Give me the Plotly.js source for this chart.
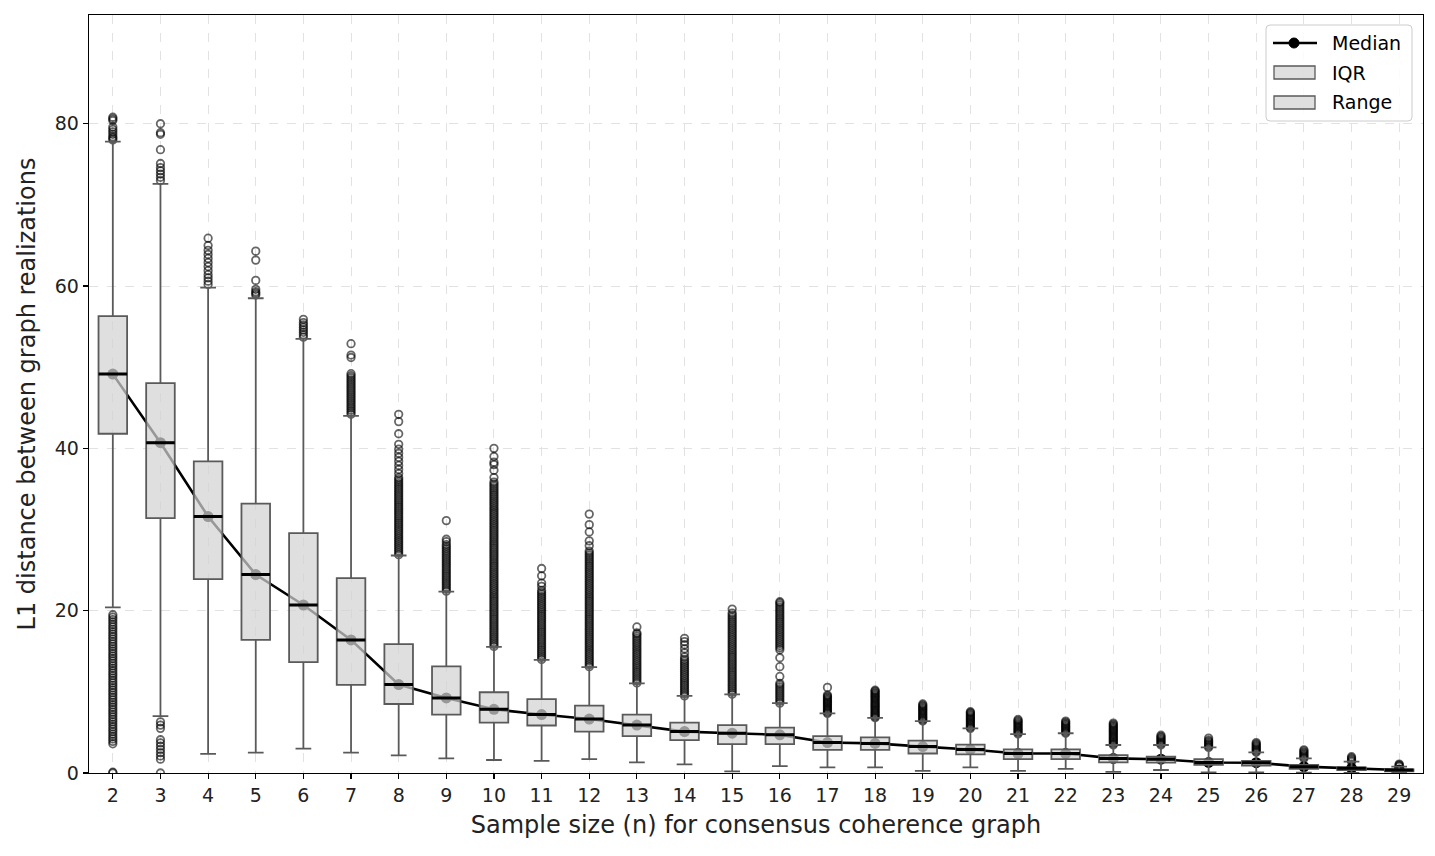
<!DOCTYPE html>
<html>
<head>
<meta charset="utf-8">
<script src="https://cdn.plot.ly/plotly-3.0.1.min.js"></script>
<style>html,body{margin:0;padding:0;background:#fff;}#chart{width:1435px;height:856px;}</style>
</head>
<body>
<div id="chart"></div>
<script>
// ---- data ----
const sampleSizes = [2,3,4,5,6,7,8,9,10,11,12,13,14,15,16,17,18,19,20,21,22,23,24,25,26,27,28,29];
const q1Values     = [41.8,31.4,23.9,16.4,13.65,10.85,8.5,7.2,6.2,5.85,5.1,4.55,4.05,3.55,3.55,2.85,2.85,2.4,2.3,1.7,1.7,1.3,1.27,1.0,0.9,0.5,0.37,0.2];
const medianValues = [49.15,40.7,31.6,24.45,20.7,16.4,10.9,9.25,7.85,7.2,6.65,5.9,5.1,4.9,4.7,3.75,3.65,3.25,2.9,2.4,2.4,1.8,1.7,1.3,1.27,0.78,0.57,0.37];
const q3Values     = [56.3,48.05,38.4,33.2,29.55,24.0,15.87,13.15,9.95,9.1,8.3,7.2,6.2,5.9,5.6,4.55,4.4,4.0,3.5,2.9,2.9,2.2,2.0,1.7,1.5,1.0,0.7,0.45];
const lowerWhisker = [20.4,7.0,2.35,2.5,3.0,2.5,2.17,1.8,1.6,1.5,1.7,1.3,1.07,0.2,0.85,0.7,0.7,0.25,0.7,0.25,0.5,0.15,0.37,0.08,0.08,0.05,0.0,0.0];
const upperWhisker = [77.8,72.6,59.8,58.5,53.5,44.0,26.8,22.35,15.55,13.95,13.05,11.05,9.5,9.7,8.6,7.35,6.8,6.4,5.5,4.8,4.9,3.45,3.45,3.15,2.55,1.8,1.4,0.78];
const outlierValues = [
  [80.8,80.6,80.4,79.6,79.3,79.0,78.7,78.4,78.2,78.0,
   19.5,19.2,18.9,18.6,18.3,18.0,17.7,17.4,17.1,16.8,16.5,16.2,15.9,15.6,15.3,15.0,14.7,14.4,14.1,13.8,13.5,13.2,12.9,12.6,12.3,12.0,11.7,11.4,11.1,10.8,10.5,10.2,9.9,9.6,9.3,9.0,8.7,8.4,8.1,7.8,7.5,7.2,6.9,6.6,6.3,6.0,5.7,5.4,5.1,4.8,4.5,4.2,3.9,3.6,0.1,0.0],
  [80.0,78.9,78.7,76.8,75.1,74.6,74.2,73.8,73.4,73.0,6.3,5.9,5.5,4.1,3.7,3.3,2.9,2.5,2.1,1.7,0.0],
  [65.9,65.0,64.4,63.9,63.4,62.9,62.4,61.9,61.4,61.0,60.6,60.2],
  [64.3,63.2,60.7,59.6,59.3,59.1,58.9],
  [55.9,55.5,55.2,54.9,54.6,54.3,54.0,53.7],
  [44.2,44.45,44.7,44.95,45.2,45.45,45.7,45.95,46.2,46.45,46.7,46.95,47.2,47.45,47.7,47.95,48.2,48.45,48.7,48.95,49.2,51.2,51.5,52.9],
  [26.9,27.15,27.4,27.65,27.9,28.15,28.4,28.65,28.9,29.15,29.4,29.65,29.9,30.15,30.4,30.65,30.9,31.15,31.4,31.65,31.9,32.15,32.4,32.65,32.9,33.15,33.4,33.65,33.9,34.15,34.4,34.65,34.9,35.15,35.4,35.65,35.9,36.15,36.4,
   36.9,37.4,37.9,38.4,38.9,39.4,39.9,40.5,41.8,43.3,44.2],
  [22.4,22.65,22.9,23.15,23.4,23.65,23.9,24.15,24.4,24.65,24.9,25.15,25.4,25.65,25.9,26.15,26.4,26.65,26.9,27.15,27.4,27.65,27.9,28.15,28.5,28.8,31.1],
  [15.6,15.85,16.1,16.35,16.6,16.85,17.1,17.35,17.6,17.85,18.1,18.35,18.6,18.85,19.1,19.35,19.6,19.85,20.1,20.35,20.6,20.85,21.1,21.35,21.6,21.85,22.1,22.35,22.6,22.85,
   23.1,23.35,23.6,23.85,24.1,24.35,24.6,24.85,25.1,25.35,25.6,25.85,26.1,26.35,26.6,26.85,27.1,27.35,27.6,27.85,28.1,28.35,28.6,28.85,29.1,29.35,29.6,29.85,
   30.1,30.35,30.6,30.85,31.1,31.35,31.6,31.85,32.1,32.35,32.6,32.85,33.1,33.35,33.6,33.85,34.1,34.35,34.6,34.85,35.1,35.35,35.6,35.85,36.4,37.3,38.0,38.3,39.0,40.0],
  [14.0,14.25,14.5,14.75,15.0,15.25,15.5,15.75,16.0,16.25,16.5,16.75,17.0,17.25,17.5,17.75,18.0,18.25,18.5,18.75,19.0,19.25,19.5,19.75,20.0,20.25,20.5,20.75,21.0,21.25,21.5,21.75,22.0,22.25,22.5,23.0,23.4,24.3,25.2],
  [13.1,13.35,13.6,13.85,14.1,14.35,14.6,14.85,15.1,15.35,15.6,15.85,16.1,16.35,16.6,16.85,17.1,17.35,17.6,17.85,18.1,18.35,18.6,18.85,19.1,19.35,19.6,19.85,
   20.1,20.35,20.6,20.85,21.1,21.35,21.6,21.85,22.1,22.35,22.6,22.85,23.1,23.35,23.6,23.85,24.1,24.35,24.6,24.85,25.1,25.35,25.6,25.85,26.1,26.35,26.6,26.85,27.1,27.35,28.0,28.6,29.7,30.6,31.9],
  [11.1,11.35,11.6,11.85,12.1,12.35,12.6,12.85,13.1,13.35,13.6,13.85,14.1,14.35,14.6,14.85,15.1,15.35,15.6,15.85,16.1,16.35,16.6,16.85,17.1,17.25,18.0],
  [9.5,9.75,10.0,10.25,10.5,10.75,11.0,11.25,11.5,11.75,12.0,12.25,12.5,12.75,13.0,13.25,13.5,13.75,14.0,14.3,14.8,15.3,15.8,16.2,16.6],
  [9.7,9.95,10.2,10.45,10.7,10.95,11.2,11.45,11.7,11.95,12.2,12.45,12.7,12.95,13.2,13.45,13.7,13.95,14.2,14.45,14.7,14.95,15.2,15.45,15.7,15.95,16.2,16.45,16.7,16.95,17.2,17.45,17.7,17.95,18.2,18.45,18.7,18.95,19.2,19.45,19.7,20.2],
  [8.6,8.85,9.1,9.35,9.6,9.85,10.1,10.35,10.6,10.85,11.05,11.9,13.1,14.2,15.2,15.45,15.7,15.95,16.2,16.45,16.7,16.95,17.2,17.45,17.7,17.95,18.2,18.45,18.7,18.95,19.2,19.45,19.7,19.95,20.2,20.45,20.7,20.95,21.1],
  [7.35,7.5,7.65,7.8,7.95,8.1,8.25,8.4,8.55,8.7,8.85,9.0,9.15,9.3,9.45,9.6,10.55],
  [6.8,6.95,7.1,7.25,7.4,7.55,7.7,7.85,8.0,8.15,8.3,8.45,8.6,8.75,8.9,9.05,9.2,9.35,9.5,9.65,9.8,9.95,10.1,10.2],
  [6.4,6.55,6.7,6.85,7.0,7.15,7.3,7.45,7.6,7.75,7.9,8.05,8.2,8.35,8.5],
  [5.5,5.65,5.8,5.95,6.1,6.25,6.4,6.55,6.7,6.85,7.0,7.15,7.3,7.45,7.55],
  [4.8,4.95,5.1,5.25,5.4,5.55,5.7,5.85,6.0,6.15,6.3,6.45,6.6],
  [4.9,5.05,5.2,5.35,5.5,5.65,5.8,5.95,6.1,6.25,6.4],
  [3.45,3.6,3.75,3.9,4.05,4.2,4.35,4.5,4.65,4.8,4.95,5.1,5.25,5.4,5.55,5.7,5.85,6.0,6.15],
  [3.45,3.6,3.75,3.9,4.05,4.2,4.35,4.5,4.65],
  [3.15,3.3,3.45,3.6,3.75,3.9,4.05,4.3],
  [2.55,2.7,2.85,3.0,3.15,3.3,3.45,3.6,3.75],
  [1.8,1.95,2.1,2.25,2.4,2.55,2.7,2.85],
  [1.4,1.55,1.7,1.85,2.0],
  [0.78,0.9,1.0,1.1]
];
const yTicks = [0,20,40,60,80];
const legendLabels = ['Median','IQR','Range'];
const xTitle = 'Sample size (n) for consensus coherence graph';
const yTitle = 'L1 distance between graph realizations';

// ---- build traces ----
const outX = [], outY = [];
sampleSizes.forEach((n, i) => {
  outlierValues[i].forEach(v => { outX.push(n); outY.push(v); });
});

const FONT = 'DejaVu Sans, sans-serif';
const BOX_FILL = 'rgba(211,211,211,0.72)';
const BOX_LINE = '#5a5a5a';

const medianLine = {
  type: 'scatter', mode: 'lines+markers', name: legendLabels[0], showlegend: false,
  x: sampleSizes, y: medianValues, xaxis: 'x', yaxis: 'y',
  line: {color: '#000', width: 2.6},
  marker: {color: '#000', size: 11},
  hoverinfo: 'skip'
};

const outliers = {
  type: 'scatter', mode: 'markers', showlegend: false,
  x: outX, y: outY, xaxis: 'x', yaxis: 'y',
  marker: {symbol: 'circle-open', size: 7.5, color: 'rgba(0,0,0,0.6)', line: {width: 1.8, color: 'rgba(0,0,0,0.6)'}},
  hoverinfo: 'skip'
};

const iqrBoxes = {
  type: 'box', name: legendLabels[1], showlegend: false,
  x: sampleSizes, q1: q1Values, median: medianValues, q3: q3Values,
  lowerfence: lowerWhisker, upperfence: upperWhisker,
  xaxis: 'x2', yaxis: 'y2',
  width: 0.6, whiskerwidth: 0.55, boxpoints: false,
  fillcolor: BOX_FILL,
  line: {color: BOX_LINE, width: 1.8},
  hoverinfo: 'skip'
};

const medianBars = {
  type: 'box', showlegend: false,
  x: sampleSizes, q1: medianValues, median: medianValues, q3: medianValues,
  lowerfence: medianValues, upperfence: medianValues,
  xaxis: 'x2', yaxis: 'y2',
  width: 0.6, whiskerwidth: 0, boxpoints: false,
  fillcolor: 'rgba(0,0,0,0)',
  line: {color: '#000', width: 3},
  hoverinfo: 'skip'
};

// ---- layout geometry (pixels of the 1435x856 canvas) ----
const M = {l: 89, r: 12, t: 15, b: 83};
const W = 1435, H = 856;
const pw = W - M.l - M.r, ph = H - M.t - M.b;
const px = p => (p - M.l) / pw;
const py = p => (H - M.b - p) / ph;

function roundRect(x0, y0, x1, y1, r) {
  const rx = r / pw, ry = r / ph;
  const X0 = px(x0), X1 = px(x1), Y0 = py(y0), Y1 = py(y1);
  return `M${X0+rx},${Y0} L${X1-rx},${Y0} Q${X1},${Y0} ${X1},${Y0-ry} L${X1},${Y1+ry} Q${X1},${Y1} ${X1-rx},${Y1} L${X0+rx},${Y1} Q${X0},${Y1} ${X0},${Y1+ry} L${X0},${Y0-ry} Q${X0},${Y0} ${X0+rx},${Y0} Z`;
}

const legendRows = [43, 72.5, 102.5];
const shapes = [
  {type: 'path', xref: 'paper', yref: 'paper', path: roundRect(1266, 25, 1412, 121, 4),
   fillcolor: 'rgba(255,255,255,0.85)', line: {color: '#cccccc', width: 1}},
  {type: 'line', xref: 'paper', yref: 'paper', x0: px(1273), x1: px(1317), y0: py(legendRows[0]), y1: py(legendRows[0]),
   line: {color: '#000', width: 2.6}},
  {type: 'circle', xref: 'paper', yref: 'paper', x0: px(1289), x1: px(1299), y0: py(legendRows[0]-5), y1: py(legendRows[0]+5),
   fillcolor: '#000', line: {color: '#000', width: 1}},
  {type: 'rect', xref: 'paper', yref: 'paper', x0: px(1274), x1: px(1315), y0: py(legendRows[1]-6.5), y1: py(legendRows[1]+6.5),
   fillcolor: BOX_FILL, line: {color: BOX_LINE, width: 1.3}},
  {type: 'rect', xref: 'paper', yref: 'paper', x0: px(1274), x1: px(1315), y0: py(legendRows[2]-6.5), y1: py(legendRows[2]+6.5),
   fillcolor: BOX_FILL, line: {color: BOX_LINE, width: 1.3}}
];
const annotations = legendLabels.map((t, i) => ({
  xref: 'paper', yref: 'paper', x: px(1330), y: py(legendRows[i]), xanchor: 'left', yanchor: 'middle',
  text: t, showarrow: false, font: {family: FONT, size: 19, color: '#000'}
}));

const xr = [1.5, 29.5], yr = [0, 93.4];

const layout = {
  width: W, height: H,
  margin: M,
  paper_bgcolor: '#fff', plot_bgcolor: '#fff',
  font: {family: FONT, color: '#000'},
  showlegend: false,
  shapes: shapes,
  annotations: annotations,
  xaxis: {
    range: xr, tickvals: sampleSizes, ticktext: sampleSizes.map(String),
    ticks: 'outside', ticklen: 5, tickwidth: 1.2, tickcolor: '#000',
    tickfont: {size: 19, family: FONT, color: '#222'},
    showline: true, linecolor: '#000', linewidth: 1.3, mirror: true,
    showgrid: true, gridcolor: '#e2e2e2', griddash: 'dash', gridwidth: 1,
    zeroline: false,
    title: {text: xTitle, font: {size: 24, family: FONT, color: '#222'}, standoff: 11}
  },
  yaxis: {
    range: yr, tickvals: yTicks,
    ticks: 'outside', ticklen: 5, tickwidth: 1.2, tickcolor: '#000',
    tickfont: {size: 19, family: FONT, color: '#222'},
    showline: true, linecolor: '#000', linewidth: 1.3, mirror: true,
    showgrid: true, gridcolor: '#e2e2e2', griddash: 'dash', gridwidth: 1,
    zeroline: false,
    title: {text: yTitle, font: {size: 24, family: FONT, color: '#222'}, standoff: 12}
  },
  xaxis2: {range: xr, overlaying: 'x', visible: false, showgrid: false, zeroline: false},
  yaxis2: {range: yr, overlaying: 'y', visible: false, showgrid: false, zeroline: false}
};

Plotly.newPlot('chart', [medianLine, outliers, iqrBoxes, medianBars], layout, {displayModeBar: false, staticPlot: true});
</script>
</body>
</html>
